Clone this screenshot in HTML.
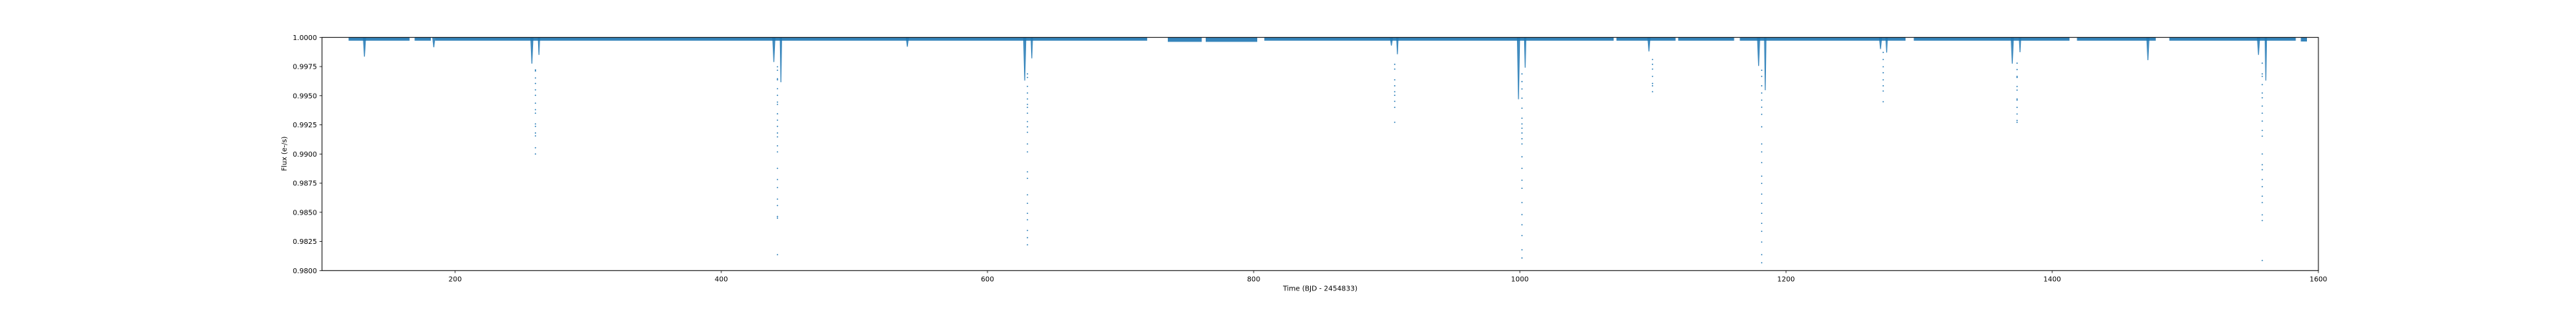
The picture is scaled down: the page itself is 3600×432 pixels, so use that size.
<!DOCTYPE html>
<html><head><meta charset="utf-8">
<style>
html,body{margin:0;padding:0;background:#fff;}
svg{display:block;font-family:"DejaVu Sans","Liberation Sans",sans-serif;}
</style></head>
<body>
<svg id="chart" width="3600" height="432" viewBox="0 0 3600 432" xmlns="http://www.w3.org/2000/svg">
<rect x="0" y="0" width="3600" height="432" fill="#fff"/>
<g id="data"></g>
<g id="axes"></g>
</svg>
<script>
// ---- data ----
const xTicks = [200,400,600,800,1000,1200,1400,1600];
const yTicks = [0.98,0.9825,0.985,0.9875,0.99,0.9925,0.995,0.9975,1.0];
const yTickLabels = ["0.9800","0.9825","0.9850","0.9875","0.9900","0.9925","0.9950","0.9975","1.0000"];
const segStart = [120,169.6,185,735.5,764,808,1072.6,1119,1165.3,1296,1418.6,1488,1586.8];
const segEnd   = [165.8,181.8,720,761,802.7,1070.5,1117,1161,1289.8,1413,1477.8,1583,1591.4];
const segDenseFlux   = [0.99972,0.99972,0.99972,0.99962,0.99962,0.99972,0.99972,0.99972,0.99972,0.99972,0.99972,0.99972,0.99965];
const segScatterFlux = [0.99945,0.99945,0.99948,0.99932,0.99932,0.99948,0.99948,0.99948,0.99948,0.99948,0.99948,0.99948,0.99945];
const coreT = [131.9,184,257.7,439.5,539.8,628,903.5,999,1097,1179.4,1271,1370,1471.9,1555];
const coreF = [0.99835,0.99915,0.99775,0.99789,0.9992,0.9963,0.9993,0.9947,0.9988,0.99755,0.9990,0.99775,0.99805,0.9985];
const branchT = [263,444.8,633.3,908,1004,1184.4,1275.6,1375.8,1560.5];
const branchF = [0.9985,0.99615,0.9982,0.99855,0.9974,0.99547,0.9987,0.99873,0.9963];
const dipT = [260.4,442.2,630,906,1001.6,1099.7,1181.7,1273,1373.6,1557.8];
const dipF = [
 [0.99721,0.99712,0.99652,0.99605,0.9955,0.99503,0.99436,0.9938,0.9935,0.99258,0.99237,0.9918,0.99155,0.99053,0.990],
 [0.99748,0.99718,0.99646,0.99636,0.9956,0.99503,0.99445,0.99425,0.99345,0.9929,0.99237,0.9918,0.99147,0.9907,0.99018,0.98877,0.98781,0.98712,0.98613,0.98558,0.98464,0.9845,0.98137],
 [0.99687,0.99656,0.9958,0.99523,0.99472,0.99425,0.994,0.9935,0.99278,0.99233,0.99186,0.99086,0.99018,0.98847,0.98791,0.9865,0.98577,0.98491,0.98436,0.98344,0.98282,0.98221],
 [0.99769,0.99728,0.99636,0.99585,0.99534,0.99503,0.99452,0.9940,0.99272],
 [0.99687,0.99621,0.99558,0.99479,0.99393,0.99307,0.99258,0.99221,0.9918,0.99131,0.99086,0.98976,0.98877,0.98775,0.98706,0.98583,0.9848,0.98393,0.983,0.98178,0.98108],
 [0.9981,0.99769,0.99728,0.99666,0.99605,0.99585,0.99534],
 [0.99718,0.99666,0.99585,0.99523,0.99462,0.99401,0.9934,0.99233,0.99086,0.99018,0.98926,0.9881,0.98748,0.98656,0.98577,0.98491,0.98405,0.98337,0.98245,0.98137,0.98067],
 [0.99871,0.9981,0.99748,0.99697,0.99636,0.99585,0.9954,0.99448],
 [0.99779,0.99724,0.99666,0.99656,0.99579,0.99548,0.99472,0.99462,0.994,0.99343,0.99288,0.99272],
 [0.99779,0.99687,0.99666,0.99595,0.99523,0.99482,0.99411,0.9935,0.99282,0.99202,0.99153,0.99,0.98908,0.98865,0.98781,0.9872,0.98638,0.98583,0.98478,0.98429,0.98086]
];
// ---- layout ----
const L=450, R=3240, T=52.3, B=378.3;
const X0=100, X1=1600, Y0=0.98, Y1=1.0;
function sx(v){return L+(v-X0)/(X1-X0)*(R-L);}
function sy(v){return B-(v-Y0)/(Y1-Y0)*(B-T);}
const NS="http://www.w3.org/2000/svg";
function mk(tag,attrs,parent){const e=document.createElementNS(NS,tag);for(const k in attrs)e.setAttribute(k,attrs[k]);parent.appendChild(e);return e;}
const gd=document.getElementById('data'), ga=document.getElementById('axes');
const C="#1f77b4";
for(let i=0;i<segStart.length;i++){
  const x1=sx(segStart[i]), x2=sx(segEnd[i]);
  const r1=mk('rect',{x:x1,y:sy(segScatterFlux[i]),width:x2-x1,height:sy(1)-sy(segScatterFlux[i])+0.01,fill:C,opacity:0.3},gd);
  
  
  const r2=mk('rect',{x:x1,y:sy(1),width:x2-x1,height:sy(segDenseFlux[i])-sy(1),fill:C,opacity:0.9},gd);
  
  
}
function wedge(t,f,w,name){
  const p=mk('polygon',{points:`${sx(t-w)},${sy(1)} ${sx(t+w)},${sy(1)} ${sx(t)+0.6},${sy(f)} ${sx(t)-0.6},${sy(f)}`,fill:C,opacity:0.85},gd);
  
  
}
for(let i=0;i<coreT.length;i++) wedge(coreT[i],coreF[i],1.2,'transit-core');
for(let i=0;i<branchT.length;i++) wedge(branchT[i],branchF[i],0.9,'transit-branch');
for(let i=0;i<dipT.length;i++){
  for(const f of dipF[i]){
    const c=mk('circle',{cx:sx(dipT[i]),cy:sy(f),r:0.9,fill:C},gd);
    
    
  }
}
// axes frame
const fr=mk('rect',{x:L,y:T,width:R-L,height:B-T,fill:'none',stroke:'#000','stroke-width':1},ga);


for(const v of xTicks){
  const x=sx(v);
  const tk=mk('line',{x1:x,y1:B,x2:x,y2:B+3.5,stroke:'#000','stroke-width':0.8},ga);
  
  
  const tx=mk('text',{x:x,y:B+15,'text-anchor':'middle','font-size':'9.7px',fill:'#000'},ga);
  tx.textContent=String(v);
  
  
}
for(let i=0;i<yTicks.length;i++){
  const y=sy(yTicks[i]);
  const tk=mk('line',{x1:L-3.5,y1:y,x2:L,y2:y,stroke:'#000','stroke-width':0.8},ga);
  
  
  const tx=mk('text',{x:L-7,y:y+3.5,'text-anchor':'end','font-size':'9.7px',fill:'#000'},ga);
  tx.textContent=yTickLabels[i];
  
  
}
</script>
<svg width="0" height="0"></svg>
<div style="position:absolute;left:0;top:0;width:3600px;height:432px;pointer-events:none;">
<svg width="3600" height="432" style="position:absolute;left:0;top:0;font-family:'DejaVu Sans','Liberation Sans',sans-serif;">
<text x="1845" y="406.5" text-anchor="middle" font-size="9.7px" fill="#000">Time (BJD - 2454833)</text>
<text x="0" y="0" transform="translate(400.5,215) rotate(-90)" text-anchor="middle" font-size="9.7px" fill="#000">Flux (e-/s)</text>
</svg>
</div>
</body></html>
